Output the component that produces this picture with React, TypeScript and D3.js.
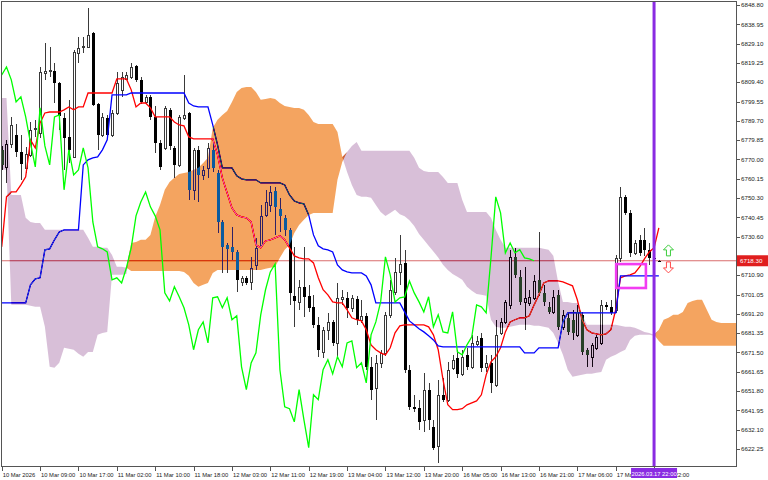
import * as d3 from "d3";

// ---- data (US500 H1, Ichimoku) ----
const opens = [
  6774.9, 6766.2, 6777.9, 6782.5, 6773.8, 6765.7, 6772.3, 6785.6, 6783.5, 6814.1,
  6815.1, 6815.1, 6809.0, 6791.2, 6781.5, 6771.3, 6824.3, 6827.4, 6827.4, 6834.5,
  6798.3, 6782.5, 6791.2, 6782.5, 6793.7, 6805.5, 6811.1, 6812.1, 6817.7, 6810.6,
  6799.3, 6801.9, 6791.7, 6778.4, 6775.9, 6795.3, 6775.9, 6767.2, 6791.2, 6793.7,
  6754.5, 6774.9, 6762.1, 6765.7, 6774.9, 6763.1, 6738.1, 6726.4, 6725.4, 6722.8,
  6707.5, 6709.6, 6707.5, 6716.2, 6726.4, 6741.7, 6746.8, 6753.9, 6744.8, 6740.2,
  6734.1, 6700.4, 6697.3, 6705.0, 6700.4, 6694.8, 6685.6, 6671.8, 6683.1, 6687.1,
  6676.4, 6698.9, 6699.4, 6694.3, 6698.9, 6688.2, 6690.2, 6664.2, 6653.5, 6666.2,
  6671.3, 6690.7, 6702.4, 6712.6, 6717.2, 6662.7, 6643.8, 6643.3, 6637.2, 6652.5,
  6633.6, 6623.9, 6649.9, 6647.4, 6663.7, 6668.8, 6660.6, 6670.3, 6664.2, 6675.9,
  6679.0, 6664.2, 6666.2, 6655.0, 6681.5, 6687.1, 6695.8, 6720.3, 6710.1, 6697.3,
  6696.8, 6699.4, 6708.6, 6701.9, 6694.8, 6692.2, 6700.9, 6684.6, 6689.2, 6688.2,
  6680.5, 6690.7, 6672.9, 6669.3, 6673.9, 6676.4, 6695.8, 6694.8, 6693.3, 6719.8,
  6750.9, 6742.7, 6722.3, 6729.0, 6729.0, 6723.9, 6719.8, 6718.3,
];
const highs = [
  6776.9, 6780.0, 6791.7, 6788.1, 6782.5, 6776.4, 6789.1, 6790.2, 6817.2, 6829.4,
  6827.4, 6819.2, 6809.5, 6793.7, 6800.4, 6825.9, 6832.5, 6832.5, 6847.3, 6835.0,
  6798.8, 6793.7, 6792.7, 6795.3, 6814.6, 6814.6, 6814.6, 6819.2, 6818.2, 6812.1,
  6802.9, 6802.9, 6797.3, 6780.0, 6797.3, 6796.3, 6776.9, 6792.7, 6813.1, 6794.2,
  6775.9, 6776.9, 6766.7, 6778.4, 6778.4, 6764.7, 6739.2, 6727.4, 6735.6, 6723.9,
  6710.6, 6710.6, 6720.3, 6730.0, 6746.8, 6754.5, 6756.5, 6756.0, 6750.4, 6741.7,
  6735.1, 6725.4, 6708.6, 6725.4, 6706.0, 6700.9, 6689.7, 6684.6, 6691.7, 6688.2,
  6707.0, 6703.5, 6702.4, 6700.9, 6700.4, 6698.4, 6691.7, 6669.3, 6670.3, 6672.9,
  6692.2, 6708.6, 6719.8, 6731.5, 6723.9, 6665.2, 6649.9, 6647.4, 6661.1, 6656.0,
  6637.2, 6657.6, 6658.6, 6666.7, 6670.3, 6672.9, 6672.9, 6673.9, 6680.5, 6680.0,
  6681.5, 6670.3, 6670.3, 6688.2, 6689.2, 6698.4, 6723.9, 6724.9, 6713.7, 6715.2,
  6703.5, 6711.1, 6733.0, 6706.0, 6697.3, 6703.5, 6703.5, 6693.3, 6692.2, 6693.3,
  6695.8, 6692.2, 6673.9, 6676.4, 6680.5, 6698.4, 6697.3, 6698.4, 6721.3, 6756.0,
  6751.9, 6744.3, 6729.0, 6731.5, 6735.1, 6727.4, 6721.3, 6718.8,
];
const lows = [
  6764.7, 6758.0, 6775.9, 6771.3, 6759.6, 6763.1, 6771.3, 6781.5, 6781.0, 6810.6,
  6812.1, 6798.8, 6785.1, 6764.7, 6768.2, 6770.8, 6819.2, 6824.3, 6826.9, 6797.3,
  6774.9, 6781.5, 6781.5, 6781.5, 6792.7, 6801.9, 6810.6, 6811.1, 6809.5, 6798.3,
  6798.3, 6790.2, 6773.3, 6764.7, 6774.9, 6774.9, 6760.6, 6766.2, 6790.2, 6749.4,
  6749.4, 6748.3, 6759.6, 6760.6, 6763.6, 6732.5, 6712.1, 6712.1, 6718.8, 6702.4,
  6705.5, 6706.0, 6703.5, 6713.7, 6725.4, 6740.7, 6743.2, 6731.5, 6733.0, 6731.0,
  6695.8, 6684.6, 6693.3, 6689.7, 6692.2, 6684.1, 6669.3, 6668.8, 6678.0, 6674.9,
  6669.3, 6695.8, 6689.2, 6692.2, 6685.6, 6686.6, 6662.7, 6647.4, 6637.2, 6663.7,
  6669.8, 6689.2, 6700.9, 6706.0, 6661.1, 6642.3, 6641.2, 6632.1, 6631.0, 6632.1,
  6621.9, 6615.2, 6646.3, 6646.3, 6662.7, 6658.6, 6659.6, 6662.7, 6663.2, 6674.9,
  6661.6, 6661.6, 6650.9, 6654.0, 6680.5, 6686.1, 6693.8, 6709.6, 6695.8, 6683.1,
  6695.3, 6698.4, 6700.4, 6695.3, 6691.2, 6691.2, 6683.1, 6683.1, 6680.5, 6678.0,
  6679.5, 6670.3, 6664.2, 6664.2, 6672.9, 6675.4, 6693.3, 6690.7, 6691.7, 6717.7,
  6741.7, 6720.3, 6721.3, 6720.8, 6720.8, 6716.2, 6717.7, 6717.8,
];
const closes = [
  6767.2, 6777.9, 6787.6, 6773.8, 6767.7, 6772.8, 6785.1, 6786.1, 6814.6, 6815.1,
  6815.7, 6809.0, 6792.2, 6781.0, 6774.9, 6824.8, 6826.9, 6827.9, 6833.5, 6797.8,
  6782.5, 6791.7, 6782.5, 6793.7, 6809.0, 6812.1, 6813.1, 6817.2, 6810.6, 6799.3,
  6801.9, 6791.7, 6778.4, 6766.2, 6796.3, 6776.9, 6767.2, 6791.7, 6792.7, 6754.5,
  6774.9, 6762.1, 6764.7, 6775.9, 6765.7, 6738.1, 6725.4, 6724.4, 6722.8, 6708.6,
  6709.6, 6707.0, 6714.7, 6724.9, 6741.2, 6748.3, 6753.4, 6745.8, 6741.2, 6734.1,
  6701.9, 6697.8, 6705.0, 6699.9, 6694.3, 6685.6, 6672.9, 6683.1, 6687.1, 6676.4,
  6699.4, 6699.9, 6694.3, 6699.4, 6688.2, 6690.2, 6664.2, 6652.5, 6666.2, 6671.3,
  6690.7, 6703.5, 6712.6, 6716.7, 6662.7, 6643.8, 6642.8, 6636.1, 6652.5, 6637.2,
  6622.9, 6649.9, 6647.4, 6662.7, 6667.8, 6660.6, 6669.3, 6664.2, 6676.4, 6677.4,
  6663.7, 6666.2, 6656.0, 6680.5, 6687.1, 6697.3, 6720.3, 6711.1, 6697.3, 6699.4,
  6699.9, 6708.0, 6701.9, 6697.3, 6692.2, 6699.9, 6684.6, 6690.7, 6682.0, 6681.5,
  6692.2, 6671.8, 6670.3, 6675.4, 6679.5, 6695.8, 6694.8, 6691.7, 6719.8, 6750.9,
  6742.7, 6722.3, 6727.4, 6722.3, 6723.9, 6719.8, 6719.3, 6718.3,
];

// Tenkan-sen (red) and Kijun-sen (blue), one value per bar
const tenkan = [
  6725.4, 6750.9, 6753.4, 6753.4, 6757.0, 6761.1, 6780.0, 6775.9, 6788.6, 6793.7,
  6794.2, 6794.2, 6794.2, 6795.3, 6796.8, 6795.3, 6796.8, 6796.8, 6803.9, 6803.9,
  6803.9, 6803.9, 6803.9, 6803.9, 6811.1, 6811.1, 6811.1, 6805.5, 6796.8, 6798.8,
  6798.8, 6796.3, 6791.7, 6791.7, 6791.7, 6791.7, 6789.1, 6787.6, 6787.1, 6781.5,
  6780.5, 6780.5, 6780.5, 6780.5, 6780.5, 6772.3, 6760.6, 6752.9, 6745.3, 6741.7,
  6740.7, 6740.2, 6738.1, 6726.4, 6724.9, 6728.4, 6729.0, 6730.0, 6731.0, 6729.0,
  6724.9, 6720.8, 6719.8, 6719.3, 6719.3, 6717.2, 6709.6, 6703.5, 6700.9, 6697.3,
  6696.8, 6696.8, 6693.3, 6689.2, 6688.2, 6687.6, 6683.1, 6675.4, 6672.9, 6671.3,
  6670.3, 6673.9, 6681.5, 6685.1, 6685.6, 6685.6, 6685.6, 6685.6, 6685.6, 6684.6,
  6680.5, 6672.9, 6657.6, 6644.8, 6642.3, 6642.3, 6642.8, 6644.8, 6645.8, 6646.8,
  6649.9, 6660.1, 6666.7, 6669.3, 6673.9, 6682.0, 6687.1, 6688.2, 6689.2, 6689.2,
  6690.2, 6695.8, 6700.9, 6707.0, 6708.0, 6708.0, 6708.0, 6707.5, 6706.5, 6705.5,
  6698.4, 6688.2, 6683.1, 6681.5, 6681.0, 6680.5, 6681.0, 6683.1, 6693.3, 6709.6,
  6710.6, 6711.1, 6712.1, 6715.2, 6719.3, 6722.8, 6724.9, 6735.1,
];
const kijun = [
  6696.8, 6696.8, 6696.8, 6696.8, 6696.8, 6696.8, 6706.0, 6709.1, 6709.6, 6723.9,
  6724.4, 6729.0, 6733.0, 6734.1, 6734.1, 6734.1, 6734.1, 6767.2, 6769.8, 6770.8,
  6771.3, 6774.9, 6780.0, 6802.9, 6802.9, 6802.9, 6802.9, 6803.9, 6803.9, 6803.9,
  6803.9, 6803.9, 6803.9, 6803.9, 6803.9, 6803.9, 6803.9, 6803.9, 6803.9, 6798.8,
  6797.3, 6796.8, 6796.8, 6796.8, 6787.6, 6777.4, 6765.7, 6765.7, 6765.7, 6761.6,
  6760.1, 6759.6, 6759.6, 6759.6, 6758.0, 6758.0, 6758.0, 6758.0, 6758.0, 6757.0,
  6751.9, 6748.8, 6747.8, 6747.3, 6741.7, 6731.5, 6725.9, 6724.4, 6723.9, 6722.8,
  6716.2, 6713.6, 6712.6, 6712.1, 6712.1, 6712.1, 6710.6, 6706.0, 6696.8, 6696.8,
  6696.8, 6696.8, 6696.8, 6696.8, 6692.2, 6687.6, 6685.6, 6683.6, 6682.0, 6680.0,
  6677.9, 6674.9, 6674.4, 6674.4, 6674.4, 6674.4, 6674.4, 6674.4, 6674.4, 6674.4,
  6674.4, 6674.4, 6674.4, 6674.4, 6674.4, 6674.4, 6674.4, 6674.4, 6674.4, 6671.3,
  6671.3, 6671.3, 6673.9, 6673.9, 6673.9, 6673.9, 6673.9, 6687.1, 6691.7, 6691.7,
  6691.7, 6691.7, 6691.7, 6691.7, 6691.7, 6691.7, 6691.7, 6691.7, 6691.7, 6710.6,
  6710.6, 6710.6, 6710.6, 6710.6, 6710.6, 6710.6, 6710.6, 6710.6,
];

// Senkou span A / B (cloud), plotted 26 bars ahead
const spanA = [
  6764.7, 6764.7, 6695.8, 6695.8, 6695.8, 6695.8, 6695.3, 6694.8, 6694.8, 6684.6,
  6664.2, 6663.7, 6666.2, 6673.9, 6673.4, 6672.9, 6670.8, 6669.3, 6671.8, 6671.8,
  6680.5, 6681.5, 6682.0, 6711.1, 6711.1, 6711.1, 6711.6, 6727.4, 6727.9, 6729.0,
  6729.0, 6731.5, 6740.7, 6746.8, 6754.5, 6758.5, 6760.6, 6762.6, 6763.1, 6763.6,
  6764.7, 6765.7, 6768.2, 6770.8, 6786.1, 6790.2, 6792.7, 6794.7, 6799.3, 6804.4,
  6806.4, 6807.0, 6807.0, 6804.4, 6800.4, 6800.9, 6801.4, 6800.9, 6798.8, 6797.3,
  6796.8, 6796.3, 6796.3, 6795.3, 6792.7, 6789.1, 6788.1, 6788.1, 6788.1, 6788.1,
  6784.0, 6771.3, 6763.6, 6757.0, 6751.9, 6750.9, 6750.9, 6750.4, 6746.8, 6743.2,
  6741.2, 6742.7, 6744.3, 6742.0, 6741.0, 6739.0, 6736.0, 6732.0, 6729.0, 6726.0,
  6723.0, 6720.0, 6716.2, 6713.6, 6711.6, 6710.1, 6708.6, 6705.0, 6703.0, 6701.4,
  6700.9, 6700.4, 6688.2, 6684.6, 6684.1, 6684.1, 6684.6, 6685.1, 6685.6, 6685.6,
  6685.6, 6685.1, 6685.1, 6684.6, 6684.1, 6681.5, 6676.4, 6670.3, 6662.7, 6659.1,
  6659.6, 6660.1, 6660.6, 6660.6, 6661.1, 6661.6, 6667.8, 6669.3, 6670.3, 6671.8,
  6672.9, 6677.9, 6680.0, 6680.5, 6680.5, 6680.5, 6680.0, 6683.1, 6688.2, 6689.2,
  6690.7, 6690.7, 6692.2, 6696.8, 6697.8, 6698.4, 6698.4, 6693.3, 6688.2, 6687.1,
  6686.6, 6686.6, 6686.6, 6686.6, 6686.6,
];
const spanB = [
  6801.4, 6801.4, 6751.9, 6751.9, 6751.9, 6740.2, 6738.1, 6737.6, 6737.6, 6734.1,
  6734.1, 6734.1, 6734.1, 6734.1, 6734.1, 6734.1, 6734.1, 6734.1, 6730.0, 6725.4,
  6725.4, 6724.9, 6724.9, 6721.3, 6715.2, 6715.2, 6714.7, 6713.1, 6713.1, 6713.1,
  6713.1, 6713.1, 6713.1, 6713.1, 6713.1, 6713.1, 6713.1, 6713.1, 6712.6, 6710.6,
  6707.0, 6705.0, 6706.0, 6707.0, 6712.1, 6713.6, 6713.6, 6713.6, 6713.6, 6713.6,
  6713.6, 6713.6, 6713.6, 6713.6, 6713.6, 6714.2, 6714.7, 6715.2, 6719.8, 6723.9,
  6726.4, 6732.5, 6736.6, 6739.2, 6741.7, 6742.7, 6742.7, 6742.7, 6742.7, 6742.7,
  6759.6, 6768.7, 6773.8, 6776.9, 6778.9, 6774.4, 6774.4, 6774.4, 6774.4, 6774.4,
  6774.4, 6774.4, 6774.4, 6774.4, 6774.4, 6774.4, 6770.8, 6765.7, 6764.1, 6763.6,
  6763.6, 6763.6, 6761.1, 6758.0, 6758.0, 6758.0, 6749.4, 6743.2, 6743.2, 6743.2,
  6743.2, 6743.2, 6740.2, 6734.1, 6729.0, 6724.9, 6724.9, 6724.9, 6724.9, 6724.9,
  6724.9, 6724.9, 6724.9, 6724.4, 6723.9, 6720.8, 6707.5, 6697.3, 6697.3, 6696.8,
  6696.8, 6690.7, 6685.6, 6685.6, 6685.6, 6685.6, 6685.6, 6685.6, 6685.6, 6685.1,
  6684.6, 6684.6, 6684.1, 6683.1, 6682.0, 6681.5, 6680.5, 6677.4, 6674.9, 6674.9,
  6674.9, 6674.9, 6674.9, 6674.9, 6674.9, 6674.9, 6674.9, 6674.9, 6674.9, 6674.9,
  6674.9, 6674.9, 6674.9, 6674.9, 6674.9,
];

const timeLabels = [
  "10 Mar 2026", "10 Mar 09:00", "10 Mar 17:00", "11 Mar 02:00", "11 Mar 10:00",
  "11 Mar 18:00", "12 Mar 03:00", "12 Mar 11:00", "12 Mar 19:00", "13 Mar 04:00",
  "13 Mar 12:00", "13 Mar 20:00", "16 Mar 05:00", "16 Mar 13:00", "16 Mar 21:00",
  "17 Mar 06:00", "17 Mar 14:00", "17 Mar 22:00",
];
const priceTicks = [
  6848.8, 6838.95, 6829.1, 6819.25, 6809.4, 6799.55, 6789.7, 6779.85, 6770.0,
  6760.15, 6750.3, 6740.45, 6730.6, 6720.75, 6710.9, 6701.05, 6691.2, 6681.35,
  6671.5, 6661.65, 6651.8, 6641.95, 6632.1, 6622.25,
];
const lastPrice = 6718.3;
const vlineBar = 136;
const vlineLabel = "2026.03.17 22:00";
const boxBars = [128.1, 134.3];
const boxPrices = [6716.6, 6704.4];
const arrowBar = 139;
const upArrowPrice = 6723.6;
const downArrowPrice = 6714.9;

const FONT = "Liberation Sans, Arial, sans-serif";

export default function App() {
  const W = 768;
  const H = 480;
  const x = d3.scaleLinear().domain([0, 153]).range([1.7, 735.6]);
  const y = d3.scaleLinear().domain([6622.25, 6848.8]).range([449, 5]);
  const px = (i: number) => Math.round(x(i)) + 0.5;

  const bars = d3.range(closes.length);
  const tenkanPath = d3.line<number>().x((i) => x(i)).y((i) => y(tenkan[i]))(bars);
  const kijunPath = d3.line<number>().x((i) => x(i)).y((i) => y(kijun[i]))(bars);
  const chikouPath = d3
    .line<number>()
    .x((j) => x(j))
    .y((j) => y(closes[j + 26]))(d3.range(closes.length - 26));

  const cloudIdx = d3.range(spanA.length);
  // bullish cloud (A above B) and bearish cloud (B above A)
  const upCloud = d3
    .area<number>()
    .x((i) => x(i))
    .y0((i) => y(spanB[i]))
    .y1((i) => y(Math.max(spanA[i], spanB[i])))(cloudIdx);
  const downCloud = d3
    .area<number>()
    .x((i) => x(i))
    .y0((i) => y(spanA[i]))
    .y1((i) => y(Math.max(spanA[i], spanB[i])))(cloudIdx);

  const arrow = (cx: number, cy: number, up: boolean) => {
    const s = up ? 1 : -1;
    const tip = cy - 5.5 * s;
    const head = tip + 5 * s;
    const end = cy + 5.5 * s;
    return [
      [cx, tip], [cx + 5, head], [cx + 2, head], [cx + 2, end],
      [cx - 2, end], [cx - 2, head], [cx - 5, head],
    ].map((p) => p.join(",")).join(" ");
  };

  const lastY = y(lastPrice);
  const vx = x(vlineBar);
  const tagLeft = vx - 23;
  const tagRight = vx + 23;

  return (
    <div style={{ position: "absolute", left: 0, top: 0 }}>
      <svg width={W} height={H} style={{ display: "block" }} fontFamily={FONT}>
        <defs>
          <clipPath id="plotClip">
            <rect x={2} y={2} width={734} height={464} />
          </clipPath>
          <clipPath id="beforeTag">
            <rect x={0} y={460} width={tagLeft} height={20} />
          </clipPath>
          <clipPath id="afterTag">
            <rect x={tagRight} y={460} width={W - tagRight} height={20} />
          </clipPath>
        </defs>
        <rect x={0} y={0} width={W} height={H} fill="#fff" />

        <g clipPath="url(#plotClip)" style={{ isolation: "isolate" }}>
          <rect x={0} y={0} width={W} height={H} fill="#fff" />
          {/* current price line */}
          <line x1={0} x2={737} y1={lastY} y2={lastY} stroke="#d96c6c" strokeWidth={1} />

          {/* candles */}
          <g shapeRendering="crispEdges">
            {bars.map((i) => {
              const X = px(i);
              const o = y(opens[i]);
              const c = y(closes[i]);
              const top = Math.round(Math.min(o, c));
              const bot = Math.round(Math.max(o, c));
              const bull = closes[i] > opens[i];
              return (
                <g key={i}>
                  <line x1={X} x2={X} y1={Math.round(y(highs[i]))} y2={Math.round(y(lows[i]))} stroke="#3a3a3a" />
                  {bull ? (
                    <rect x={X - 1} y={top + 0.5} width={2} height={Math.max(bot - top, 1)} fill="#fff" stroke="#3a3a3a" />
                  ) : (
                    <rect x={X - 1.5} y={top} width={3} height={Math.max(bot - top, 1)} fill="#000" />
                  )}
                </g>
              );
            })}
          </g>

          <path d={tenkanPath ?? ""} fill="none" stroke="#ff0000" strokeWidth={1.3} />
          <path d={kijunPath ?? ""} fill="none" stroke="#0000ff" strokeWidth={1.3} />

          {/* cloud drawn in difference mode like the terminal's fill */}
          <path d={upCloud ?? ""} fill="#0b5b9f" style={{ mixBlendMode: "difference" }} />
          <path d={downCloud ?? ""} fill="#274027" style={{ mixBlendMode: "difference" }} />

          <path d={chikouPath ?? ""} fill="none" stroke="#00ff00" strokeWidth={1.3} />

          {/* rectangle object */}
          <rect
            x={x(boxBars[0])}
            y={y(boxPrices[0])}
            width={x(boxBars[1]) - x(boxBars[0])}
            height={y(boxPrices[1]) - y(boxPrices[0])}
            fill="none"
            stroke="#f23cf2"
            strokeWidth={2.6}
          />

          {/* arrows */}
          <polygon points={arrow(x(arrowBar), y(upArrowPrice), true)} fill="#fff" stroke="#3ccc3c" strokeWidth={1} />
          <polygon points={arrow(x(arrowBar), y(downArrowPrice), false)} fill="#fff" stroke="#ff4a4a" strokeWidth={1} />

          {/* vertical line */}
          <line x1={vx} x2={vx} y1={0} y2={467} stroke="#8a2be2" strokeWidth={3} />
        </g>

        {/* frame */}
        <rect x={1.5} y={1.5} width={735} height={465} fill="none" stroke="#555" strokeWidth={1} shapeRendering="crispEdges" />

        {/* price axis */}
        <g shapeRendering="crispEdges">
          {priceTicks.map((p) => (
            <line key={p} x1={736} x2={740} y1={Math.round(y(p)) + 0.5} y2={Math.round(y(p)) + 0.5} stroke="#555" />
          ))}
        </g>
        {priceTicks
          .filter((p) => Math.abs(y(p) - lastY) > 8)
          .map((p) => (
            <text key={p} x={741} y={y(p) + 2.2} fontSize={6.2} fill="#222">
              {p.toFixed(2)}
            </text>
          ))}
        <rect x={737} y={lastY - 5.5} width={31} height={11} fill="#e01e1e" />
        <text x={740} y={lastY + 2.2} fontSize={6.2} fill="#fff">
          {lastPrice.toFixed(2)}
        </text>

        {/* time axis */}
        <g shapeRendering="crispEdges">
          {timeLabels.map((t, k) => (
            <line key={t} x1={px(k * 8)} x2={px(k * 8)} y1={467} y2={471} stroke="#555" />
          ))}
        </g>
        {timeLabels.map((t, k) => {
          const tx = x(k * 8) + 1;
          // labels partly hidden by the vertical-line tag are clipped to their visible part
          const clip = tx < tagLeft && tx + 34 > tagLeft ? "url(#beforeTag)" : tx >= tagLeft && tx < tagRight ? "url(#afterTag)" : undefined;
          return (
            <text key={t} x={tx} y={476.5} fontSize={5.8} fill="#222" clipPath={clip}>
              {t}
            </text>
          );
        })}
        <rect x={tagLeft} y={468} width={46} height={10} fill="#8a2be2" />
        <text x={vx} y={475.5} fontSize={5.8} fill="#fff" textAnchor="middle">
          {vlineLabel}
        </text>
      </svg>
    </div>
  );
}
